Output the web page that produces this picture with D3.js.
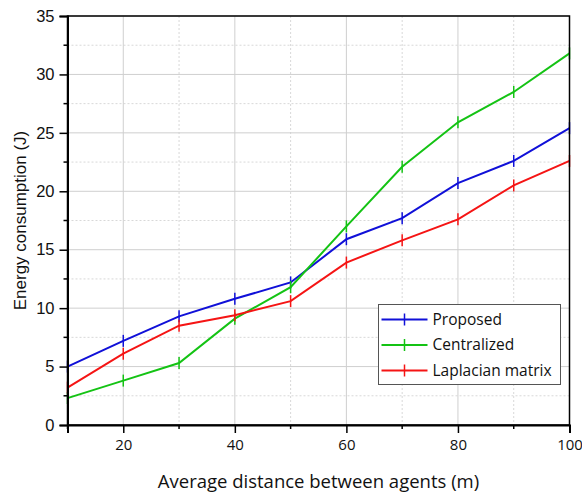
<!DOCTYPE html>
<html>
<head>
<meta charset="utf-8">
<script src="https://cdn.jsdelivr.net/npm/d3@7"></script>
<style>
  body { margin: 0; background: #fff; }
  svg { display: block; }
</style>
</head>
<body>
<div id="chart"></div>
<script>
const W = 582, H = 494;
const MARGIN = { LEFT: 67.5, RIGHT: 12.5, TOP: 16, BOTTOM: 69 };
const WIDTH = W - MARGIN.LEFT - MARGIN.RIGHT;
const HEIGHT = H - MARGIN.TOP - MARGIN.BOTTOM;

// data
const distances = [10, 20, 30, 40, 50, 60, 70, 80, 90, 100];
const proposed = [5.0, 7.2, 9.3, 10.8, 12.2, 15.9, 17.7, 20.7, 22.6, 25.4];
const centralized = [2.3, 3.8, 5.3, 9.1, 11.8, 17.0, 22.1, 25.9, 28.5, 31.8];
const laplacian = [3.2, 6.1, 8.5, 9.4, 10.6, 13.9, 15.8, 17.6, 20.5, 22.6];
const seriesNames = ["Proposed", "Centralized", "Laplacian matrix"];
const seriesColors = ["#1010d8", "#14c314", "#f51414"];
const xTicks = [20, 40, 60, 80, 100];
const xMinor = [10, 30, 50, 70, 90];
const yTicks = [0, 5, 10, 15, 20, 25, 30, 35];
const yMinor = [2.5, 7.5, 12.5, 17.5, 22.5, 27.5, 32.5];

const series = [proposed, centralized, laplacian].map((vals, i) => ({
  name: seriesNames[i], color: seriesColors[i],
  pts: distances.map((d, j) => ({ x: d, y: vals[j] }))
}));

const svg = d3.select("#chart").append("svg")
  .attr("width", W).attr("height", H);
const g = svg.append("g")
  .attr("transform", `translate(${MARGIN.LEFT}, ${MARGIN.TOP})`);

const x = d3.scaleLinear().domain([10, 100]).range([0, WIDTH]);
const y = d3.scaleLinear().domain([0, 35]).range([HEIGHT, 0]);

// grid: minor dotted, major solid
g.append("g").selectAll("line").data(xMinor).join("line")
  .attr("x1", d => x(d)).attr("x2", d => x(d)).attr("y1", 0).attr("y2", HEIGHT)
  .attr("stroke", "#d8d8d8").attr("stroke-dasharray", "2,2");
g.append("g").selectAll("line").data(yMinor).join("line")
  .attr("y1", d => y(d)).attr("y2", d => y(d)).attr("x1", 0).attr("x2", WIDTH)
  .attr("stroke", "#d8d8d8").attr("stroke-dasharray", "2,2");
g.append("g").selectAll("line").data(xTicks).join("line")
  .attr("x1", d => x(d)).attr("x2", d => x(d)).attr("y1", 0).attr("y2", HEIGHT)
  .attr("stroke", "#cfcfcf");
g.append("g").selectAll("line").data(yTicks).join("line")
  .attr("y1", d => y(d)).attr("y2", d => y(d)).attr("x1", 0).attr("x2", WIDTH)
  .attr("stroke", "#cfcfcf");

// series lines with vertical bar markers
const line = d3.line().x(d => x(d.x)).y(d => y(d.y));
series.forEach(s => {
  g.append("path").datum(s.pts)
    .attr("d", line).attr("fill", "none")
    .attr("stroke", s.color).attr("stroke-width", 2);
  g.append("g").selectAll("line").data(s.pts).join("line")
    .attr("x1", d => x(d.x)).attr("x2", d => x(d.x))
    .attr("y1", d => y(d.y) - 6).attr("y2", d => y(d.y) + 6)
    .attr("stroke", s.color).attr("stroke-width", 1.5);
});

// frame
g.append("rect").attr("width", WIDTH).attr("height", HEIGHT)
  .attr("fill", "none").attr("stroke", "#000").attr("stroke-width", 1.5);

// axes
const xAxis = g.append("g").attr("transform", `translate(0, ${HEIGHT})`)
  .call(d3.axisBottom(x).tickValues(xTicks).tickSize(8).tickPadding(6));
xAxis.append("g").selectAll("line").data(xMinor).join("line")
  .attr("x1", d => x(d)).attr("x2", d => x(d)).attr("y1", 0).attr("y2", 4)
  .attr("stroke", "#000").attr("stroke-width", 1.5);
xAxis.selectAll("text").attr("font-family", "Open Sans, sans-serif")
  .attr("font-size", 15).attr("fill", "#111");

const yAxis = g.append("g")
  .call(d3.axisLeft(y).tickValues(yTicks).tickSize(8).tickPadding(5));
yAxis.append("g").selectAll("line").data(yMinor).join("line")
  .attr("y1", d => y(d)).attr("y2", d => y(d)).attr("x1", 0).attr("x2", -4)
  .attr("stroke", "#000").attr("stroke-width", 1.5);
yAxis.selectAll("text").attr("font-family", "Liberation Sans, Arial, sans-serif")
  .attr("font-size", 16.5).attr("fill", "#111");

[xAxis, yAxis].forEach(a => {
  a.select(".domain").attr("stroke-width", 2);
  a.selectAll(".tick line").attr("stroke-width", 1.5);
});

// axis titles
g.append("text")
  .attr("x", WIDTH / 2).attr("y", HEIGHT + 63)
  .attr("text-anchor", "middle")
  .attr("font-family", "Open Sans, sans-serif").attr("font-size", 18.5)
  .attr("fill", "#111")
  .text("Average distance between agents (m)");
g.append("text")
  .attr("transform", `translate(${-MARGIN.LEFT + 26}, ${HEIGHT / 2}) rotate(-90)`)
  .attr("text-anchor", "middle")
  .attr("font-family", "Liberation Sans, Arial, sans-serif").attr("font-size", 17)
  .attr("fill", "#111")
  .text("Energy consumption (J)");

// legend
const lg = g.append("g").attr("transform", `translate(${378.5 - MARGIN.LEFT}, ${304.5 - MARGIN.TOP})`);
lg.append("rect").attr("width", 182).attr("height", 80)
  .attr("fill", "#fff").attr("stroke", "#555").attr("stroke-width", 1);
series.forEach((s, i) => {
  const row = lg.append("g").attr("transform", `translate(0, ${15 + i * 25.5})`);
  row.append("line").attr("x1", 3).attr("x2", 49).attr("y1", 0).attr("y2", 0)
    .attr("stroke", s.color).attr("stroke-width", 2);
  row.append("line").attr("x1", 26).attr("x2", 26).attr("y1", -6).attr("y2", 6)
    .attr("stroke", s.color).attr("stroke-width", 1.5);
  row.append("text").attr("x", 54).attr("y", 0).attr("dy", "0.35em")
    .attr("font-family", "Open Sans, sans-serif").attr("font-size", 15.5)
    .attr("fill", "#111").text(s.name);
});
</script>
</body>
</html>
